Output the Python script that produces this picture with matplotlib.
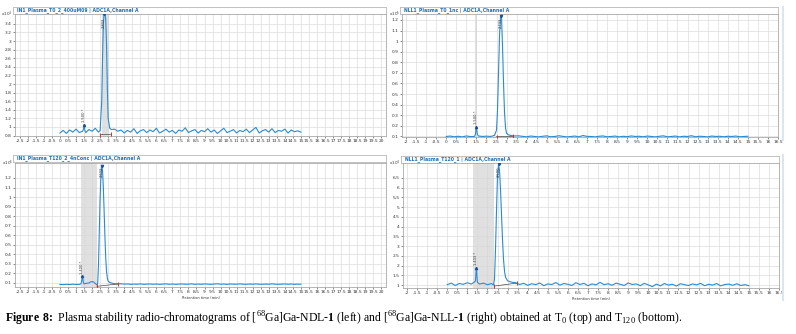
import matplotlib
matplotlib.use('Agg')
import matplotlib.pyplot as plt
from matplotlib.lines import Line2D

W, H = 796, 334

# shared sampling times of the baseline traces (min)
t_base = [0.0, 0.2, 0.4, 0.6, 0.8, 1.0, 1.2, 1.4, 1.6, 1.8, 2.0, 2.2, 2.4, 2.6, 2.8, 3.0,
          3.2, 3.4, 3.6, 3.8, 4.0, 4.2, 4.4, 4.6, 4.8, 5.0, 5.2, 5.4, 5.6, 5.8, 6.0, 6.2,
          6.4, 6.6, 6.8, 7.0, 7.2, 7.4, 7.6, 7.8, 8.0, 8.2, 8.4, 8.6, 8.8, 9.0, 9.2, 9.4,
          9.6, 9.8, 10.0, 10.2, 10.4, 10.6, 10.8, 11.0, 11.2, 11.4, 11.6, 11.8, 12.0, 12.2,
          12.4, 12.6, 12.8, 13.0, 13.2, 13.4, 13.6, 13.8, 14.0, 14.2, 14.4, 14.6, 14.8, 15.0]

# NDL-1, T0  (x10^4)
ndl_t0_base = [0.86, 0.92, 0.85, 0.93, 0.88, 0.95, 0.87, 0.91, 0.89, 0.94,
               0.90, 0.97, 0.88, 0.90, 0.90, 0.90, 0.94, 0.95, 0.90, 0.93,
               0.86, 0.92, 0.88, 0.96, 0.85, 0.91, 0.94, 0.87, 0.93, 0.89,
               0.97, 0.86, 0.90, 0.95, 0.88, 0.92, 0.85, 0.93, 0.90, 0.98,
               0.87, 0.91, 0.94, 0.86, 0.92, 0.89, 0.96, 0.88, 0.93, 0.85,
               0.91, 0.97, 0.87, 0.90, 0.94, 0.86, 0.92, 0.89, 0.95, 0.87,
               0.93, 0.99, 0.86, 0.91, 0.94, 0.88, 0.96, 0.87, 0.92, 0.90,
               0.95, 0.86, 0.93, 0.89, 0.91, 0.88]
ndl_t0_pk_t = [1.4, 1.45, 1.5, 1.55, 1.6, 1.8, 2.0, 2.2, 2.4, 2.5, 2.6, 2.65, 2.7, 2.75,
               2.8, 2.85, 2.9, 2.95, 3.0, 3.1, 3.2]
ndl_t0_pk_y = [0.90, 0.93, 1.05, 0.92, 0.87, 0.94, 0.90, 0.97, 0.88, 0.92, 1.6, 2.6, 3.4,
               3.66, 3.66, 3.5, 2.9, 1.9, 1.2, 0.97, 0.94]

# NLL-1, T0  (x10^5)
nll_t0_base = [0.100, 0.104, 0.097, 0.102, 0.096, 0.105, 0.099, 0.103, 0.097, 0.104,
               0.100, 0.102, 0.106, 0.100, 0.100, 0.100, 0.100, 0.112, 0.106, 0.101,
               0.097, 0.104, 0.100, 0.096, 0.102, 0.106, 0.097, 0.100, 0.107, 0.101,
               0.096, 0.100, 0.104, 0.097, 0.109, 0.101, 0.100, 0.096, 0.102, 0.105,
               0.097, 0.100, 0.104, 0.096, 0.102, 0.098, 0.105, 0.100, 0.102, 0.097,
               0.104, 0.100, 0.096, 0.102, 0.106, 0.097, 0.100, 0.104, 0.096, 0.102,
               0.100, 0.107, 0.097, 0.102, 0.100, 0.096, 0.104, 0.100, 0.102, 0.097,
               0.102, 0.100, 0.104, 0.097, 0.100, 0.102]
nll_t0_pk_t = [1.4, 1.45, 1.5, 1.55, 1.6, 1.8, 2.0, 2.2, 2.4, 2.5, 2.55, 2.6, 2.65, 2.7,
               2.75, 2.8, 2.85, 2.9, 2.95, 3.0, 3.1, 3.2, 3.4]
nll_t0_pk_y = [0.10, 0.12, 0.19, 0.12, 0.105, 0.10, 0.103, 0.10, 0.11, 0.16, 0.35, 0.70,
               1.05, 1.24, 1.22, 0.95, 0.60, 0.32, 0.18, 0.13, 0.115, 0.11, 0.105]

# NDL-1, T120  (x10^5)
ndl_t120_base = [0.085, 0.083, 0.086, 0.084, 0.087, 0.085, 0.086, 0.090, 0.090, 0.100,
                 0.110, 0.100, 0.080, 0.100, 0.100, 0.100, 0.100, 0.100, 0.090, 0.092,
                 0.088, 0.090, 0.086, 0.089, 0.087, 0.091, 0.086, 0.088, 0.090, 0.087,
                 0.089, 0.086, 0.088, 0.091, 0.087, 0.089, 0.086, 0.088, 0.090, 0.087,
                 0.088, 0.091, 0.086, 0.089, 0.087, 0.090, 0.088, 0.086, 0.089, 0.092,
                 0.087, 0.089, 0.086, 0.090, 0.088, 0.087, 0.091, 0.088, 0.086, 0.089,
                 0.087, 0.090, 0.088, 0.086, 0.089, 0.087, 0.091, 0.088, 0.086, 0.088,
                 0.090, 0.087, 0.089, 0.086, 0.088, 0.087]
ndl_t120_pk_t = [1.2, 1.3, 1.35, 1.4, 1.45, 1.5, 1.6, 1.8, 1.9, 2.0, 2.1, 2.2, 2.3, 2.35,
                 2.4, 2.45, 2.5, 2.55, 2.6, 2.65, 2.7, 2.75, 2.8, 2.85, 2.9, 2.95, 3.0,
                 3.1, 3.2, 3.4, 3.6]
ndl_t120_pk_y = [0.085, 0.09, 0.12, 0.17, 0.11, 0.09, 0.095, 0.10, 0.11, 0.115, 0.11,
                 0.095, 0.08, 0.10, 0.30, 0.65, 1.0, 1.22, 1.33, 1.28, 1.10, 0.85, 0.58,
                 0.36, 0.22, 0.15, 0.12, 0.105, 0.10, 0.092, 0.09]

# NLL-1, T120  (x10^4)
nll_t120_base = [1.02, 1.10, 0.98, 1.08, 1.04, 1.12, 1.00, 1.10, 1.05, 1.10,
                 1.00, 1.10, 1.00, 1.10, 1.10, 1.20, 1.10, 1.12, 1.03, 1.09,
                 0.99, 1.07, 1.02, 1.11, 0.97, 1.06, 1.03, 1.13, 1.00, 1.08,
                 1.04, 0.98, 1.12, 1.03, 1.09, 0.97, 1.06, 1.01, 1.14, 1.02,
                 1.07, 0.99, 1.10, 1.04, 0.98, 1.11, 1.03, 1.06, 0.97, 1.09,
                 1.01, 0.92, 1.05, 0.96, 1.08, 1.00, 1.04, 0.95, 1.07, 1.02,
                 0.98, 1.06, 1.01, 1.09, 0.97, 1.04, 1.00, 1.08, 0.96, 1.03,
                 1.05, 0.99, 1.07, 0.98, 1.02, 0.97]
nll_t120_pk_t = [1.2, 1.3, 1.4, 1.45, 1.5, 1.6, 1.8, 2.0, 2.2, 2.3, 2.35, 2.4, 2.45, 2.5,
                 2.55, 2.6, 2.65, 2.7, 2.75, 2.8, 2.85, 2.9, 3.0, 3.1, 3.2, 3.4]
nll_t120_pk_y = [1.05, 1.12, 1.20, 1.90, 1.15, 1.05, 1.10, 1.02, 1.08, 1.00, 1.30, 2.8,
                 4.8, 6.6, 7.2, 6.9, 5.9, 4.6, 3.3, 2.3, 1.7, 1.4, 1.22, 1.18, 1.15, 1.12]

titles = ['IN1_Plasma_T0_2_400uM09 | ADC1A,Channel A',
          'NLL1_Plasma_T0_1nc | ADC1A,Channel A',
          'IN1_Plasma_T120_2_4nConc | ADC1A,Channel A',
          'NLL1_Plasma_T120_1 | ADC1A,Channel A']
peak_labels = ['2.833', '2.733', '2.633', '2.500']
spike_labels = ['1.500 *', '1.500 *', '1.400 *', '1.433 *']

BLUE = '#2a8bd0'


def px(x0, y0, x1, y1):
    return [x0 / W, 1 - y1 / H, (x1 - x0) / W, (y1 - y0) / H]


def merge(base, pk_t, pk_y):
    pts = [(t, v) for t, v in zip(t_base, base) if t < pk_t[0] or t > pk_t[-1]]
    pts += list(zip(pk_t, pk_y))
    pts.sort()
    return [p[0] for p in pts], [p[1] for p in pts]


def panel(fig, box, tbox, title, base, pk_t, pk_y, xlim, xticks, ylim, yticks,
          ytl, mult, band, spike, pk_lab, sp_lab, marks, xlabel=False):
    # title bar
    tax = fig.add_axes(px(*tbox))
    tax.set_xticks([]); tax.set_yticks([])
    for s in tax.spines.values():
        s.set_color('#b8b8b8'); s.set_linewidth(0.6)
    tax.text(0.01, 0.5, title, fontsize=3.3, color='#1f6fb5', fontweight='bold',
             va='center', ha='left', transform=tax.transAxes)

    ax = fig.add_axes(px(*box))
    t, y = merge(base, pk_t, pk_y)
    ax.axvspan(band[0], band[1], color='#d6d6d6', alpha=0.75, zorder=1, lw=0)
    ax.plot(t, y, color=BLUE, lw=0.8, zorder=3)
    ax.set_xlim(*xlim)
    ax.set_ylim(*ylim)
    ax.set_xticks(xticks)
    ax.set_xticklabels(['%g' % v for v in xticks])
    ax.set_yticks(yticks)
    ax.set_yticklabels(ytl)
    ax.grid(True, color='#dadada', lw=0.45, zorder=0)
    ax.set_axisbelow(True)
    ax.tick_params(labelsize=3.2, length=1.2, width=0.4, pad=1.2, colors='#333333')
    for s in ax.spines.values():
        s.set_color('#a8a8a8'); s.set_linewidth(0.6)
    ax.text(-0.006, 1.0, r'x10$^{%d}$' % mult, transform=ax.transAxes, fontsize=3.0,
            ha='right', va='center', color='#333333')

    # integration baseline and boundary marks
    ax.plot(marks[:2], marks[2:], color='#444444', lw=0.5, zorder=4)
    ax.plot(marks[:2], marks[2:], ls='none', marker='|', ms=2.5, mew=0.7,
            color='#d03030', zorder=5)

    # apex labels
    top = max(pk_y)
    apex = pk_t[pk_y.index(top)]
    ax.plot([apex], [min(top, ylim[1])], ls='none', marker='v', ms=1.6, color='#1a4f99',
            zorder=5)
    ax.text(apex, ylim[1] - 0.03 * (ylim[1] - ylim[0]), pk_lab, rotation=90, fontsize=2.6,
            ha='center', va='top', color='#333333', zorder=6)
    sp_y = max(v for tt, v in zip(pk_t, pk_y) if abs(tt - spike) < 0.06)
    ax.plot([spike], [sp_y], ls='none', marker='^', ms=1.6, color='#1a4f99', zorder=5)
    ax.text(spike, sp_y + 0.02 * (ylim[1] - ylim[0]), sp_lab, rotation=90, fontsize=2.6,
            ha='center', va='bottom', color='#333333', zorder=6)
    if xlabel:
        ax.set_xlabel('Retention time (min)', fontsize=2.6, labelpad=1, color='#333333')
    return ax


fig = plt.figure(figsize=(W / 100, H / 100), dpi=100)
fig.patch.set_facecolor('white')

xt_left = [v / 2 for v in range(-5, 41)]
xt_right = [v / 2 for v in range(-4, 34)]

panel(fig, (15, 14, 386, 136), (13, 7, 386, 14), titles[0], ndl_t0_base, ndl_t0_pk_t,
      ndl_t0_pk_y, (-2.8, 20.3), xt_left, (0.79, 3.63),
      [0.8 + 0.2 * i for i in range(14)],
      ['0.8', '1', '1.2', '1.4', '1.6', '1.8', '2', '2.2', '2.4', '2.6', '2.8', '3', '3.2', '3.4'],
      4, (2.6, 3.05), 1.5, peak_labels[0], spike_labels[0], [2.5, 3.15, 0.82, 0.83])

panel(fig, (402, 14, 778, 137), (400, 7, 778, 14), titles[1], nll_t0_base, nll_t0_pk_t,
      nll_t0_pk_y, (-2.2, 16.5), xt_right, (0.095, 1.256),
      [0.1 * i for i in range(1, 13)],
      ['0.1', '0.2', '0.3', '0.4', '0.5', '0.6', '0.7', '0.8', '0.9', '1', '1.1', '1.2'],
      5, (1.45, 1.55), 1.5, peak_labels[1], spike_labels[1], [2.5, 3.3, 0.098, 0.1])

panel(fig, (15, 163, 386, 287), (13, 155, 386, 162), titles[2], ndl_t120_base, ndl_t120_pk_t,
      ndl_t120_pk_y, (-2.8, 20.3), xt_left, (0.058, 1.357),
      [0.1 * i for i in range(1, 13)],
      ['0.1', '0.2', '0.3', '0.4', '0.5', '0.6', '0.7', '0.8', '0.9', '1', '1.1', '1.2'],
      5, (1.3, 2.33), 1.4, peak_labels[2], spike_labels[2], [2.3, 3.6, 0.065, 0.09],
      xlabel=True)

panel(fig, (403, 163, 779, 288), (401, 156, 779, 163), titles[3], nll_t120_base, nll_t120_pk_t,
      nll_t120_pk_y, (-2.2, 16.5), xt_right, (0.85, 7.27),
      [1 + 0.5 * i for i in range(12)],
      ['1', '1.5', '2', '2.5', '3', '3.5', '4', '4.5', '5', '5.5', '6', '6.5'],
      4, (1.3, 2.35), 1.45, peak_labels[3], spike_labels[3], [2.35, 3.45, 0.95, 1.1],
      xlabel=True)

# side scroll bars of the right-hand panels
fig.add_artist(Line2D([783 / W, 783 / W], [1 - 7 / H, 1 - 140 / H], color='#dce6f0', lw=1.5))
fig.add_artist(Line2D([783 / W, 783 / W], [1 - 155 / H, 1 - 300 / H], color='#dce6f0', lw=1.5))

plt.rcParams['mathtext.fontset'] = 'custom'
plt.rcParams['mathtext.rm'] = 'Liberation Serif'
plt.rcParams['mathtext.bf'] = 'Liberation Serif:bold'
caption = (r'$\mathbf{Figure\ 8\!:}$ Plasma stability radio-chromatograms of '
           r'[$^{68}$Ga]Ga-NDL-$\mathbf{1}$ (left) and [$^{68}$Ga]Ga-NLL-$\mathbf{1}$ (right) '
           r'obtained at T$_0$ (top) and T$_{120}$ (bottom).')
fig.text(0.006, 0.045, caption, fontsize=8.5, family='Liberation Serif', va='center', ha='left')

fig.savefig('out.png', dpi=100)
